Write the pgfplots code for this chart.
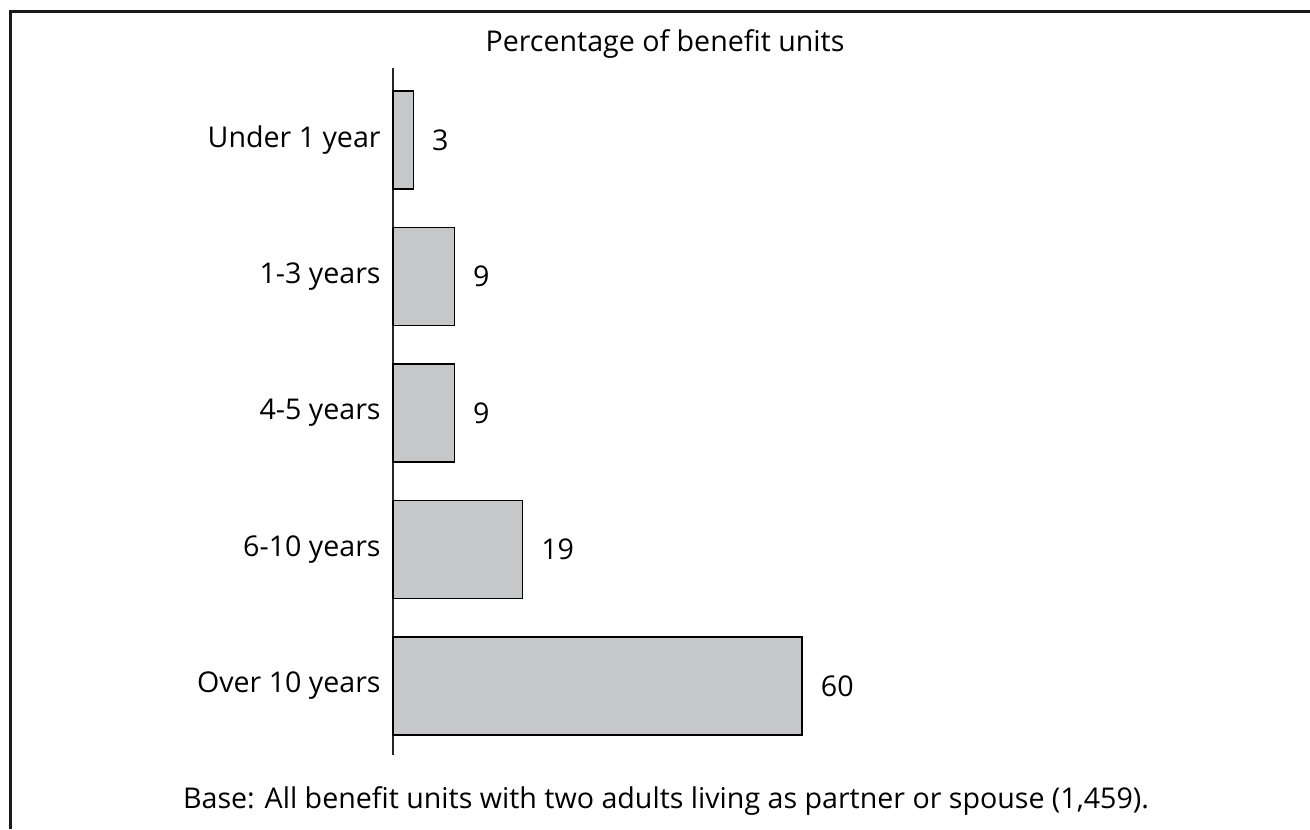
\documentclass[border=0pt]{standalone}
\usepackage{fontspec}
\setmainfont{Open Sans}
\usepackage{pgfplots}
\pgfplotsset{compat=1.18}

\definecolor{barfill}{HTML}{C6C7C9}
\definecolor{frameline}{HTML}{1A1A1A}

% Share of benefit units by length of relationship
\pgfplotstableread{
pos value
0 3
1 9
2 9
3 19
4 60
}\durationdata

\begin{document}
\begin{tikzpicture}[font=\fontsize{14.3pt}{17pt}\selectfont]
  % page size
  \path[use as bounding box] (0,0) rectangle (655pt,414.5pt);
  % open frame: top and left rule
  \draw[frameline, line width=1.5pt] (5.25pt,0) -- (5.25pt,408.75pt) -- (655pt,408.75pt);

  \begin{axis}[
    at={(196.5pt,37pt)}, anchor=south west,
    scale only axis,
    width=341pt, height=343.5pt,
    xmin=0, xmax=100,
    ymin=-0.527, ymax=4.505,
    y dir=reverse,
    xbar, bar width=49pt,
    hide x axis,
    axis y line=left,
    y axis line style={-, draw=black!85, line width=0.75pt},
    ytick={0,1,2,3,4},
    yticklabels={Under 1 year, 1-3 years, 4-5 years, 6-10 years, Over 10 years},
    major tick length=0pt,
    ytick style={draw=none},
    yticklabel style={anchor=east, inner sep=0pt, xshift=-6pt},
    /pgf/number format/assume math mode=true,
    nodes near coords,
    nodes near coords style={anchor=west, inner sep=0pt, xshift=9pt},
    clip=false,
  ]
    \addplot[fill=barfill, draw=black, line width=0.75pt] table[x=value, y=pos] {\durationdata};
  \end{axis}

  \node[anchor=base] at (332.5pt,388.5pt) {Percentage of benefit units};
  \node[anchor=base] at (333pt,10.5pt) {Base: All benefit units with two adults living as partner or spouse (1,459).};
\end{tikzpicture}
\end{document}
